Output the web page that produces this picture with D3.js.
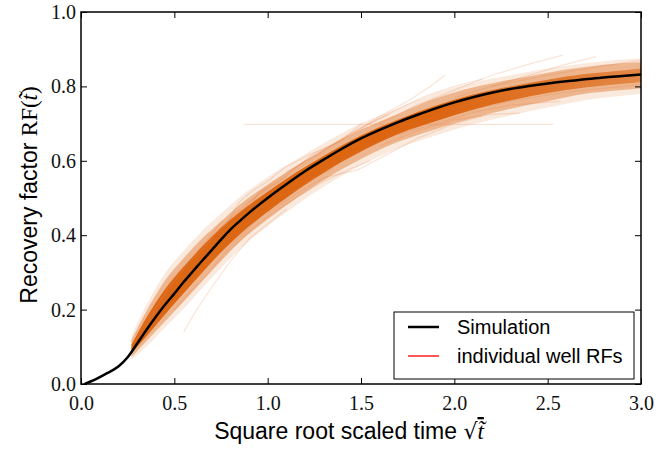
<!DOCTYPE html>
<html><head><meta charset="utf-8">
<script src="https://cdn.jsdelivr.net/npm/d3@7"></script>
<style>body{margin:0;background:#fff}</style>
</head><body><svg id="c" width="665" height="451"></svg>
<script>
// ---- data ----
const xTicks = [0, 0.5, 1.0, 1.5, 2.0, 2.5, 3.0];
const yTicks = [0, 0.2, 0.4, 0.6, 0.8, 1.0];
const legendLabels = ["Simulation", "individual well RFs"];

const simX  = [0.02,0.08,0.14,0.2,0.25,0.3,0.35,0.4,0.45,0.5,0.55,0.6,0.65,0.7,0.75,0.8,0.85,0.9,1.0,1.1,1.2,1.3,1.4,1.5,1.6,1.7,1.8,1.9,2.0,2.1,2.2,2.3,2.4,2.5,2.6,2.7,2.8,2.9,3.0];
const simRF = [0.0,0.013,0.029,0.047,0.072,0.108,0.145,0.18,0.213,0.243,0.274,0.303,0.332,0.36,0.388,0.415,0.438,0.46,0.50,0.537,0.572,0.603,0.633,0.66,0.683,0.704,0.723,0.741,0.757,0.771,0.783,0.793,0.801,0.808,0.814,0.819,0.824,0.828,0.832];

// envelopes of the dense bundle of well curves
const bandX  = [0.27,0.35,0.45,0.55,0.65,0.75,0.85,1.0,1.15,1.3,1.5,1.7,1.9,2.1,2.3,2.5,2.7,2.9,3.0];
const coreHi = [0.105,0.178,0.255,0.315,0.37,0.42,0.462,0.517,0.568,0.613,0.668,0.711,0.748,0.778,0.80,0.818,0.833,0.843,0.848];
const coreLo = [0.082,0.128,0.187,0.244,0.30,0.354,0.402,0.463,0.518,0.568,0.625,0.672,0.706,0.737,0.762,0.782,0.797,0.807,0.812];
const midHi  = [0.118,0.195,0.278,0.338,0.392,0.437,0.482,0.536,0.585,0.63,0.684,0.726,0.768,0.797,0.818,0.837,0.852,0.862,0.865];
const midLo  = [0.072,0.115,0.168,0.222,0.277,0.332,0.382,0.443,0.498,0.548,0.605,0.651,0.685,0.715,0.74,0.76,0.78,0.79,0.795];
const outHi  = [0.13,0.212,0.298,0.358,0.412,0.458,0.502,0.556,0.602,0.647,0.70,0.742,0.782,0.81,0.83,0.848,0.862,0.872,0.875];
const outLo  = [0.065,0.10,0.152,0.202,0.258,0.312,0.362,0.425,0.48,0.53,0.588,0.634,0.668,0.698,0.722,0.743,0.763,0.775,0.78];

// individual (outlying) well RF curves: [sqrt t, RF]
const well01 = [[0.3,0.125],[0.38,0.19],[0.45,0.245],[0.52,0.29],[0.6,0.335],[0.7,0.39],[0.8,0.44],[0.9,0.49],[1.0,0.525],[1.1,0.56]];
const well02 = [[0.6,0.33],[0.7,0.395],[0.78,0.43],[0.85,0.49],[0.92,0.52],[1.0,0.545],[1.1,0.585],[1.2,0.61],[1.35,0.645],[1.5,0.69],[1.65,0.725]];
const well03 = [[0.55,0.14],[0.62,0.2],[0.7,0.26],[0.8,0.33],[0.9,0.39],[1.0,0.43],[1.1,0.47]];
const well04 = [[0.87,0.698],[2.53,0.698]];
const well05 = [[0.5,0.2],[0.6,0.255],[0.7,0.305],[0.8,0.36],[0.9,0.41],[1.0,0.45],[1.15,0.5],[1.3,0.545],[1.45,0.58],[1.55,0.6]];
const well06 = [[1.3,0.63],[1.45,0.67],[1.6,0.72],[1.75,0.76],[1.87,0.8],[1.95,0.83]];
const well07 = [[1.6,0.7],[1.8,0.75],[2.0,0.79],[2.2,0.83],[2.4,0.86],[2.58,0.884]];
const well08 = [[2.0,0.77],[2.2,0.8],[2.4,0.83],[2.6,0.86],[2.76,0.88]];
const well09 = [[1.6,0.64],[1.8,0.68],[2.0,0.71],[2.2,0.725],[2.35,0.728]];
const well10 = [[1.7,0.67],[1.9,0.7],[2.1,0.73],[2.3,0.75],[2.57,0.76]];
const well11 = [[2.2,0.8],[2.5,0.83],[2.8,0.855],[3.0,0.87]];
const well12 = [[2.4,0.79],[2.7,0.815],[3.0,0.84]];
const well13 = [[0.9,0.47],[0.95,0.515],[1.05,0.54],[1.15,0.58],[1.25,0.62],[1.4,0.655],[1.5,0.7]];
const well14 = [[0.35,0.16],[0.42,0.22],[0.5,0.275],[0.58,0.33],[0.66,0.37],[0.75,0.42],[0.85,0.47]];
const well15 = [[1.0,0.46],[1.15,0.51],[1.3,0.555],[1.48,0.575],[1.65,0.62],[1.8,0.66],[2.0,0.7],[2.15,0.72]];
const well16 = [[0.28,0.095],[0.36,0.15],[0.44,0.21],[0.5,0.24],[0.58,0.29],[0.68,0.345],[0.78,0.4]];
const well17 = [[0.65,0.36],[0.75,0.42],[0.85,0.46],[0.95,0.51],[1.05,0.55],[1.2,0.6],[1.3,0.63]];
const well18 = [[1.1,0.57],[1.25,0.61],[1.4,0.66],[1.55,0.7],[1.7,0.74],[1.85,0.775],[2.0,0.8],[2.15,0.82]];
const well19 = [[0.7,0.31],[0.8,0.37],[0.9,0.42],[1.0,0.47],[1.1,0.5],[1.2,0.54],[1.35,0.58]];
const well20 = [[1.8,0.7],[2.0,0.74],[2.2,0.77],[2.45,0.795],[2.7,0.81],[2.95,0.825]];
const well21 = [[0.32,0.13],[0.4,0.2],[0.47,0.26],[0.55,0.31]];
const well22 = [[1.2,0.54],[1.35,0.59],[1.5,0.63],[1.65,0.665],[1.8,0.69],[1.95,0.72],[2.1,0.74]];
const well23 = [[2.0,0.73],[2.3,0.76],[2.6,0.785],[2.9,0.8],[3.0,0.805]];
const well24 = [[0.45,0.25],[0.52,0.3],[0.6,0.34],[0.68,0.39],[0.76,0.44]];
const wells = [well01,well02,well03,well04,well05,well06,well07,well08,well09,well10,well11,well12,
               well13,well14,well15,well16,well17,well18,well19,well20,well21,well22,well23,well24];

// ---- layout ----
const L = 81, R = 641, T = 12, B = 384;
const svg = d3.select("#c");
const x = d3.scaleLinear().domain([0, 3]).range([L, R]);
const y = d3.scaleLinear().domain([0, 1]).range([B, T]);
const ORANGE = "#db640f";

const defs = svg.append("defs");
defs.append("clipPath").attr("id","clip").append("rect")
  .attr("x",L).attr("y",T).attr("width",R-L).attr("height",B-T);
const grad = defs.append("linearGradient").attr("id","fade")
  .attr("gradientUnits","userSpaceOnUse")
  .attr("x1", x(bandX[0])).attr("x2", x(bandX[bandX.length-1])).attr("y1",0).attr("y2",0);
[[0,0.95],[0.6,1.0],[0.8,0.8],[1,0.55]].forEach(s =>
  grad.append("stop").attr("offset", s[0]).attr("stop-color", ORANGE).attr("stop-opacity", s[1]));

const plot = svg.append("g").attr("clip-path","url(#clip)");

const area = (hi, lo) => d3.area().curve(d3.curveMonotoneX)
  .x((d,i) => x(bandX[i])).y0((d,i) => y(lo[i])).y1((d,i) => y(hi[i]));

plot.append("path").datum(bandX).attr("d", area(outHi, outLo))
  .attr("fill", ORANGE).attr("fill-opacity", 0.14);
plot.append("path").datum(bandX).attr("d", area(midHi, midLo))
  .attr("fill", ORANGE).attr("fill-opacity", 0.38);
plot.append("path").datum(bandX).attr("d", area(coreHi, coreLo))
  .attr("fill", "url(#fade)");

const wline = d3.line().x(d => x(d[0])).y(d => y(d[1]));
plot.selectAll(".well").data(wells).join("path")
  .attr("d", wline).attr("fill","none")
  .attr("stroke", "#e57a3c").attr("stroke-opacity", 0.2).attr("stroke-width", 1.2);

const sline = d3.line().curve(d3.curveMonotoneX).x((d,i) => x(simX[i])).y(d => y(d));
plot.append("path").datum(simRF).attr("d", sline)
  .attr("fill","none").attr("stroke","#000").attr("stroke-width",2.5);

// ---- axes (inward ticks on all sides) ----
const tickFont = "'Liberation Serif', 'Times New Roman', serif";
const axB = svg.append("g").attr("transform",`translate(0,${B})`)
  .call(d3.axisBottom(x).tickValues(xTicks).tickSize(-6).tickPadding(12).tickFormat(d3.format(".1f")));
const axT = svg.append("g").attr("transform",`translate(0,${T})`)
  .call(d3.axisTop(x).tickValues(xTicks).tickSize(-6).tickFormat(""));
const axL = svg.append("g").attr("transform",`translate(${L},0)`)
  .call(d3.axisLeft(y).tickValues(yTicks).tickSize(-6).tickPadding(5).tickFormat(d3.format(".1f")));
const axR = svg.append("g").attr("transform",`translate(${R},0)`)
  .call(d3.axisRight(y).tickValues(yTicks).tickSize(-6).tickFormat(""));
[axB,axT,axL,axR].forEach(a => {
  a.select(".domain").remove();
  a.selectAll(".tick line").attr("stroke","#000").attr("stroke-width",1);
  a.selectAll("text").attr("font-family", tickFont).attr("font-size", 20).attr("fill","#111");
});
svg.append("rect").attr("x",L).attr("y",T).attr("width",R-L).attr("height",B-T)
  .attr("fill","none").attr("stroke","#000").attr("stroke-width",1.5);

// ---- legend ----
const sans = "'Liberation Sans', Arial, sans-serif";
const lg = svg.append("g");
lg.append("rect").attr("x",394).attr("y",312).attr("width",240).attr("height",67)
  .attr("fill","#fff").attr("stroke","#000").attr("stroke-width",1);
const lgColors = ["#000", "#ff2020"];
const lgWidths = [2.5, 1.5];
legendLabels.forEach((t,i) => {
  const yy = 327 + i*29;
  lg.append("line").attr("x1",408).attr("x2",439).attr("y1",yy).attr("y2",yy)
    .attr("stroke", lgColors[i]).attr("stroke-width", lgWidths[i]);
  lg.append("text").attr("x",457).attr("y",yy+7).text(t)
    .attr("font-family", sans).attr("font-size",20);
});

// ---- axis titles ----
const xt = svg.append("text").attr("x",349).attr("y",439).attr("text-anchor","middle")
  .attr("font-family", sans).attr("font-size",23);
xt.append("tspan").text("Square root scaled time ");
xt.append("tspan").attr("font-family","'DejaVu Serif', serif").attr("font-size",22).text("\u221A");
xt.append("tspan").attr("font-family","'Liberation Serif', serif").attr("font-style","italic")
  .attr("text-decoration","overline").text("t\u0303");

const yt = svg.append("text").attr("transform","translate(37,195) rotate(-90)")
  .attr("text-anchor","middle").attr("font-family", sans).attr("font-size",23);
yt.append("tspan").text("Recovery factor ");
yt.append("tspan").attr("font-family","'Liberation Serif', serif").text("RF(");
yt.append("tspan").attr("font-family","'Liberation Serif', serif").attr("font-style","italic").text("t\u0303");
yt.append("tspan").attr("font-family","'Liberation Serif', serif").text(")");
</script>
</body></html>
